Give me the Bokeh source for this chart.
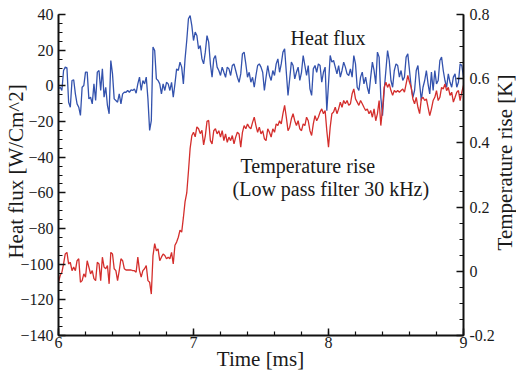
import math
from bokeh.plotting import figure
from bokeh.models import Range1d, LinearAxis, SingleIntervalTicker, Label, CustomJSTickFormatter
from bokeh.embed import file_html
from bokeh.resources import INLINE

# ---- data ----
t_start = 6.0      # ms
t_step = 0.0125

heat_flux = [  # W/Cm^2 (left axis)
    -1.7, -0.8, -2.6, 8.6, 10.5, 10.1, -9.2, -12, 3, 3.4,
    -4.5, -10.1, -12, -16.6, -0.8, 0.2, 7.7, 7.7, -7.3, -6.4,
    -10.1, 1.1, -8.2, 7.7, 8.6, -2.6, 9.5, -6.4, -0.8, -11,
    -15.7, 14.2, 6.7, -7.3, -8.2, -9.2, -4.5, -10.1, -4.5, -3.6,
    -3.6, -2.6, -3.6, -2.3, -2.6, -1.7, -4.1, 1.1, 4.9, -2.6,
    3, 1.1, 4.9, -7.3, -25, -19.5, 21.7, 19.8, 3.9, 3,
    1.1, -4.5, 1.1, -2.6, 2, 1.1, -2.6, 2, -6.4, 1.1,
    9.5, 8.6, 13.3, 10.5, 1.1, 15.1, 25.4,
    37.6, 39.4, 33.8, 25.4, 30.1, 28.2, 20.7, 22.6, 15.1, 12.3,
    18.9, 28.2, 24.5, 12.3, 4.8, 15.1, 17, 10.5, 8.6, 5.8,
    10.5, 7.6, 4.8, 10.5, 9.5, 5.8, 11.4, 12.3, 8.6, 4.8,
    2, 6.7, 17.9, 18.9, 12.3, 4.8, 7.6, 2, 4.8, -0.8,
    5.8, 11.4, 12.3, 10.5, 7.6, -2.6, 4.8, 11.4, 5.8, 3,
    8.6, 5.8, 12.3, 15.1, 7.6, 12.3, 18.9, 20.7, 7.6, -5.4,
    3.9, 13.3, 11.4, 3.9, 7.6, 10.5, 3, 7.6, 17, 11.4,
    5.8, 11.4, -1.7, -5.4, 9.5, 11.4, 7.6, 12.3, 11.4, 2,
    7.6, 10.5,
    -13.9, 1.1, 17, 13.3, 14.2, 10.5, 6.7, 11.4, 4.9, 8.6,
    13.3, 10.5, 6.7, 5.8, 9.5, 4.9, 17, 12.3, -0.8, -2.6,
    4.9, 7.7, 1.1, 4.9, -0.8, -4.5, 4.9, 13.3, 8.6, 1.1,
    18.9, 16.1, -6.4, -16.7, -2.6, 8.6, 19.8, 14.2, 3, -0.8,
    8.6, 12.3, 11.4, 4.9, 8.6, 3, 4.9, 16.1, 17.9, 8.6,
    -0.8, -6.4, -2.6, 8.6, 11.4, 1.1, -8.2, -0.8, 3, 8.6,
    1.1, -4.5, 7.7, -2.6, 8.6, 1.1, 3, 14.2, 16.1, 8.6,
    3, -0.8, 6.7, 2, -0.8, 4.9, 6.7, -0.8, 2, 12.3,
    11.4, 4.9,
]

temp_rise = [  # K (right axis)
    -0.034, -0.013, -0.003, 0.023, 0.054, 0.059, 0.023, 0.028, 0.002, 0.013,
    0.002, 0.033, 0.039, -0.034, -0.029, -0.008, -0.018, 0.033, 0.013, -0.008,
    0.002, -0.023, -0.029, 0.028, 0.023, -0.029, 0.044, 0.013, 0.008, 0.018,
    -0.039, 0.059, 0.054, 0.008, 0.002, -0.029, 0.002, 0.039, 0.033, 0.008,
    0.004, 0.004, 0.004, 0.004, 0.002, 0.002, -0.003, 0.044, 0.002, -0.018,
    0.002, 0.008, 0.018, -0.029, -0.034, -0.071, 0.049, 0.086, 0.064, 0.070,
    0.033, 0.044, 0.054, 0.049, 0.039, 0.044, 0.039, 0.059, 0.023, 0.081,
    0.091, 0.106, 0.128, 0.122, 0.167, 0.217, 0.244, 0.311, 0.383, 0.422,
    0.433, 0.419, 0.450, 0.444, 0.429, 0.439, 0.394, 0.422, 0.467, 0.470,
    0.407, 0.397, 0.438, 0.444, 0.428, 0.438, 0.418, 0.438, 0.407, 0.428,
    0.402, 0.418, 0.407, 0.423, 0.397, 0.418, 0.433, 0.428, 0.387, 0.433,
    0.454, 0.444, 0.459, 0.449, 0.444, 0.464, 0.480, 0.454, 0.433, 0.449,
    0.428, 0.438, 0.413, 0.407, 0.444, 0.433, 0.418, 0.444, 0.433, 0.459,
    0.454, 0.469, 0.459, 0.491, 0.517, 0.480, 0.438, 0.449, 0.475, 0.491,
    0.469, 0.454, 0.469, 0.444, 0.438, 0.459, 0.454, 0.480, 0.469, 0.438,
    0.423, 0.459, 0.485, 0.469, 0.480, 0.496, 0.506, 0.491, 0.501, 0.438,
    0.387, 0.449, 0.491, 0.496, 0.511, 0.491, 0.506, 0.527, 0.511, 0.532,
    0.522, 0.532, 0.517, 0.522, 0.553, 0.568, 0.537, 0.527, 0.517, 0.532,
    0.522, 0.511, 0.501, 0.506, 0.491, 0.501, 0.480, 0.506, 0.469, 0.491,
    0.532, 0.454, 0.506, 0.573, 0.589, 0.573, 0.584, 0.563, 0.548, 0.563,
    0.558, 0.563, 0.558, 0.563, 0.568, 0.558, 0.584, 0.610, 0.589, 0.573,
    0.537, 0.522, 0.542, 0.511, 0.491, 0.537, 0.542, 0.532, 0.537, 0.511,
    0.485, 0.506, 0.532, 0.542, 0.563, 0.532, 0.542, 0.573, 0.568, 0.584,
    0.563, 0.573, 0.548, 0.558, 0.527, 0.542, 0.558, 0.563, 0.532, 0.558,
    0.579,
]

time_ms = [t_start + i * t_step for i in range(len(heat_flux))]

# axis extents
x_lo, x_hi = 6, 9
flux_lo, flux_hi = -140, 40
temp_lo, temp_hi = -0.2, 0.8

# ---- layout in pixels (frame fills the whole canvas; axes sit at fixed spots) ----
W, H = 516, 372
left_px, right_px, top_px, bottom_px = 58, 53, 14, 37
sx = (W - left_px - right_px) / (x_hi - x_lo)
sy = (H - top_px - bottom_px) / (flux_hi - flux_lo)
st = (H - top_px - bottom_px) / (temp_hi - temp_lo)

xr = Range1d(x_lo - left_px / sx, x_hi + right_px / sx)
yr = Range1d(flux_lo - bottom_px / sy, flux_hi + top_px / sy)
tr = Range1d(temp_lo - bottom_px / st, temp_hi + top_px / st)

FONT = "Liberation Serif"
TXT = "#1a1a1a"
BLUE = "#3352ad"
RED = "#d42e2c"

p = figure(width=W, height=H, output_backend="svg", toolbar_location=None,
           x_range=xr, y_range=yr, min_border=0)
p.extra_y_ranges = {"temp": tr}
p.grid.visible = False
p.outline_line_color = None
p.background_fill_color = "white"
p.border_fill_color = "white"

p.line(time_ms, heat_flux, color=BLUE, line_width=1.3)
p.line(time_ms, temp_rise, color=RED, line_width=1.3, y_range_name="temp")

xax = p.xaxis[0]
xax.ticker = SingleIntervalTicker(interval=1, num_minor_ticks=5)
xax.fixed_location = flux_lo
xax.bounds = (x_lo, x_hi)

yax = p.yaxis[0]
yax.ticker = SingleIntervalTicker(interval=20, num_minor_ticks=4)
yax.fixed_location = x_lo
yax.bounds = (flux_lo, flux_hi)

right = LinearAxis(y_range_name="temp",
                   ticker=SingleIntervalTicker(interval=0.2, num_minor_ticks=4),
                   formatter=CustomJSTickFormatter(
                       code="return Math.abs(tick) < 1e-9 ? '0' : tick.toFixed(1);"),
                   fixed_location=x_hi, bounds=(temp_lo, temp_hi))
p.add_layout(right, "right")

for ax in [xax, yax, right]:
    ax.axis_line_color = "#111111"
    ax.axis_line_width = 2
    ax.major_tick_line_color = "#111111"
    ax.minor_tick_line_color = "#111111"
    ax.major_tick_line_width = 1.5
    ax.minor_tick_line_width = 1.2
    ax.major_tick_in = 7
    ax.major_tick_out = 0
    ax.minor_tick_in = 4
    ax.minor_tick_out = 0
    ax.major_label_text_font = FONT
    ax.major_label_text_font_size = "16px"
    ax.major_label_text_color = TXT

xax.major_label_standoff = 1
yax.major_label_standoff = 5
right.major_label_standoff = 6

# axis titles
p.add_layout(Label(x=7.496, y=-153.0, text="Time [ms]", text_font=FONT,
                   text_font_size="21px", text_color=TXT,
                   text_align="center", text_baseline="middle"))
p.add_layout(Label(x=5.685, y=-48.0, text="Heat flux [W/Cm^2]", text_font=FONT,
                   text_font_size="21px", text_color=TXT, angle=math.pi / 2,
                   text_align="center", text_baseline="middle"))
p.add_layout(Label(x=9.304, y=-43.0, text="Temperature rise [K]", text_font=FONT,
                   text_font_size="21px", text_color=TXT, angle=math.pi / 2,
                   text_align="center", text_baseline="middle"))

# in-plot annotations
for x, y, txt in [(7.719, 27.1, "Heat flux"),
                  (7.348, -45.2, "Temperature rise"),
                  (7.289, -57.6, "(Low pass filter 30 kHz)")]:
    p.add_layout(Label(x=x, y=y, text=txt, text_font=FONT, text_font_size="20px",
                       text_color=TXT, text_baseline="middle", text_align="left"))

open("out.html", "w").write(file_html(p, INLINE))
